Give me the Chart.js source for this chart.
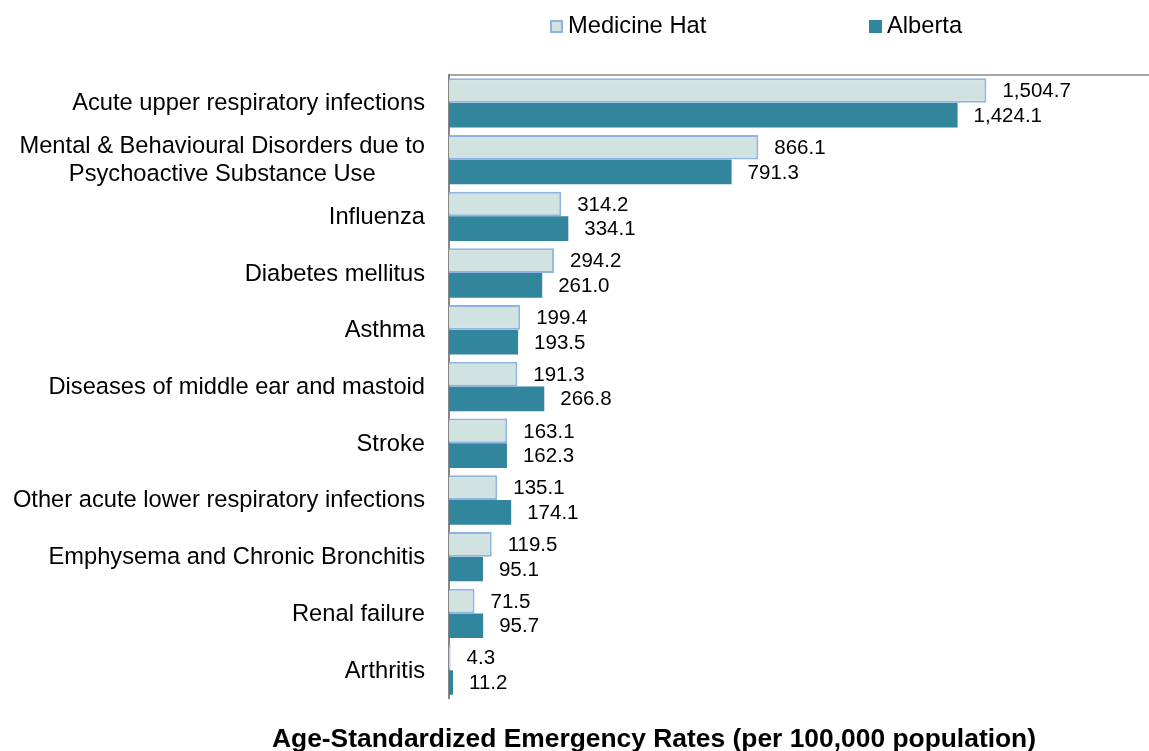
<!DOCTYPE html>
<html>
<head>
<meta charset="utf-8">
<script src="https://cdn.jsdelivr.net/npm/chart.js@4"></script>
<style>
  body { margin: 0; background: #fff; }
</style>
</head>
<body>
<canvas id="rateChart" width="1149" height="751"></canvas>
<script>
// chart values
const categories = [
    'Acute upper respiratory infections',
    ['Mental & Behavioural Disorders due to', 'Psychoactive Substance Use'],
    'Influenza',
    'Diabetes mellitus',
    'Asthma',
    'Diseases of middle ear and mastoid',
    'Stroke',
    'Other acute lower respiratory infections',
    'Emphysema and Chronic Bronchitis',
    'Renal failure',
    'Arthritis'
];
const medicineHat = [1504.7, 866.1, 314.2, 294.2, 199.4, 191.3, 163.1, 135.1, 119.5, 71.5, 4.3];
const alberta = [1424.1, 791.3, 334.1, 261.0, 193.5, 266.8, 162.3, 174.1, 95.1, 95.7, 11.2];
const seriesNames = ['Medicine Hat', 'Alberta'];
const axisTitle = 'Age-Standardized Emergency Rates (per 100,000 population)';

const FONT = '"Liberation Sans", Arial, sans-serif';

// category labels drawn by hand so the two-line label is centred like the original
const yLabels = {
    id: 'yLabels',
    afterDraw(chart) {
        const ctx = chart.ctx;
        const y = chart.scales.y;
        ctx.save();
        ctx.font = '23.7px ' + FONT;
        ctx.fillStyle = '#000';
        ctx.textBaseline = 'middle';
        ctx.textAlign = 'center';
        const right = 425;
        const lineH = 27.5;
        categories.forEach((lab, i) => {
            const lines = Array.isArray(lab) ? lab : [lab];
            const w = Math.max(...lines.map(l => ctx.measureText(l).width));
            const cy = y.getPixelForTick(i) + 1;
            lines.forEach((l, j) => {
                ctx.fillText(l, right - w / 2, cy + (j - (lines.length - 1) / 2) * lineH);
            });
        });
        ctx.restore();
    }
};

// value labels at the end of each bar
const valueLabels = {
    id: 'valueLabels',
    afterDatasetsDraw(chart) {
        const ctx = chart.ctx;
        ctx.save();
        ctx.font = '20.5px ' + FONT;
        ctx.fillStyle = '#000';
        ctx.textBaseline = 'middle';
        ctx.textAlign = 'left';
        chart.data.datasets.forEach((ds, di) => {
            chart.getDatasetMeta(di).data.forEach((bar, i) => {
                const txt = ds.data[i].toLocaleString('en-US', {minimumFractionDigits: 1, maximumFractionDigits: 1});
                ctx.fillText(txt, bar.x + 16, bar.y + 1);
            });
        });
        ctx.restore();
    }
};

// legend + bottom title
const extras = {
    id: 'extras',
    afterDraw(chart) {
        const ctx = chart.ctx;
        const ds = chart.data.datasets;
        ctx.save();
        ctx.font = '23.7px ' + FONT;
        ctx.textBaseline = 'alphabetic';
        ctx.textAlign = 'left';
        const boxX = [550, 869];
        ds.forEach((d, i) => {
            ctx.fillStyle = d.backgroundColor;
            ctx.fillRect(boxX[i], 20, 13, 13);
            if (d.borderWidth) {
                ctx.strokeStyle = d.borderColor;
                ctx.lineWidth = 2;
                ctx.strokeRect(boxX[i] + 1, 21, 11, 11);
            }
            ctx.fillStyle = '#000';
            ctx.fillText(d.label, boxX[i] + 18, 33);
        });
        ctx.font = 'bold 26.4px ' + FONT;
        ctx.textAlign = 'center';
        ctx.fillText(axisTitle, 654, 747);
        ctx.restore();
    }
};

const chartCanvas = document.getElementById('rateChart');
const rateChart = new Chart(chartCanvas, {
    type: 'bar',
    data: {
        labels: categories,
        datasets: [{
            label: seriesNames[0],
            data: medicineHat,
            backgroundColor: '#d1e3e1',
            borderColor: '#8fb4e3',
            borderWidth: 2,
            borderSkipped: 'start'
        }, {
            label: seriesNames[1],
            data: alberta,
            backgroundColor: '#31859c',
            borderWidth: 0
        }]
    },
    options: {
        responsive: false,
        animation: false,
        indexAxis: 'y',
        categoryPercentage: 0.87,
        barPercentage: 1.0,
        layout: {
            padding: {top: 74.5, left: 449, right: 0, bottom: 52.5}
        },
        plugins: {
            legend: {display: false},
            tooltip: {enabled: false}
        },
        scales: {
            x: {
                position: 'top',
                min: 0,
                max: 1960,
                grid: {display: false},
                ticks: {display: false},
                border: {color: '#a6a6a6', width: 2},
                afterFit: s => { s.height = 0; }
            },
            y: {
                grid: {display: false},
                ticks: {display: false},
                border: {color: '#868686', width: 2},
                afterFit: s => { s.width = 0; }
            }
        }
    },
    plugins: [yLabels, valueLabels, extras]
});
</script>
</body>
</html>
